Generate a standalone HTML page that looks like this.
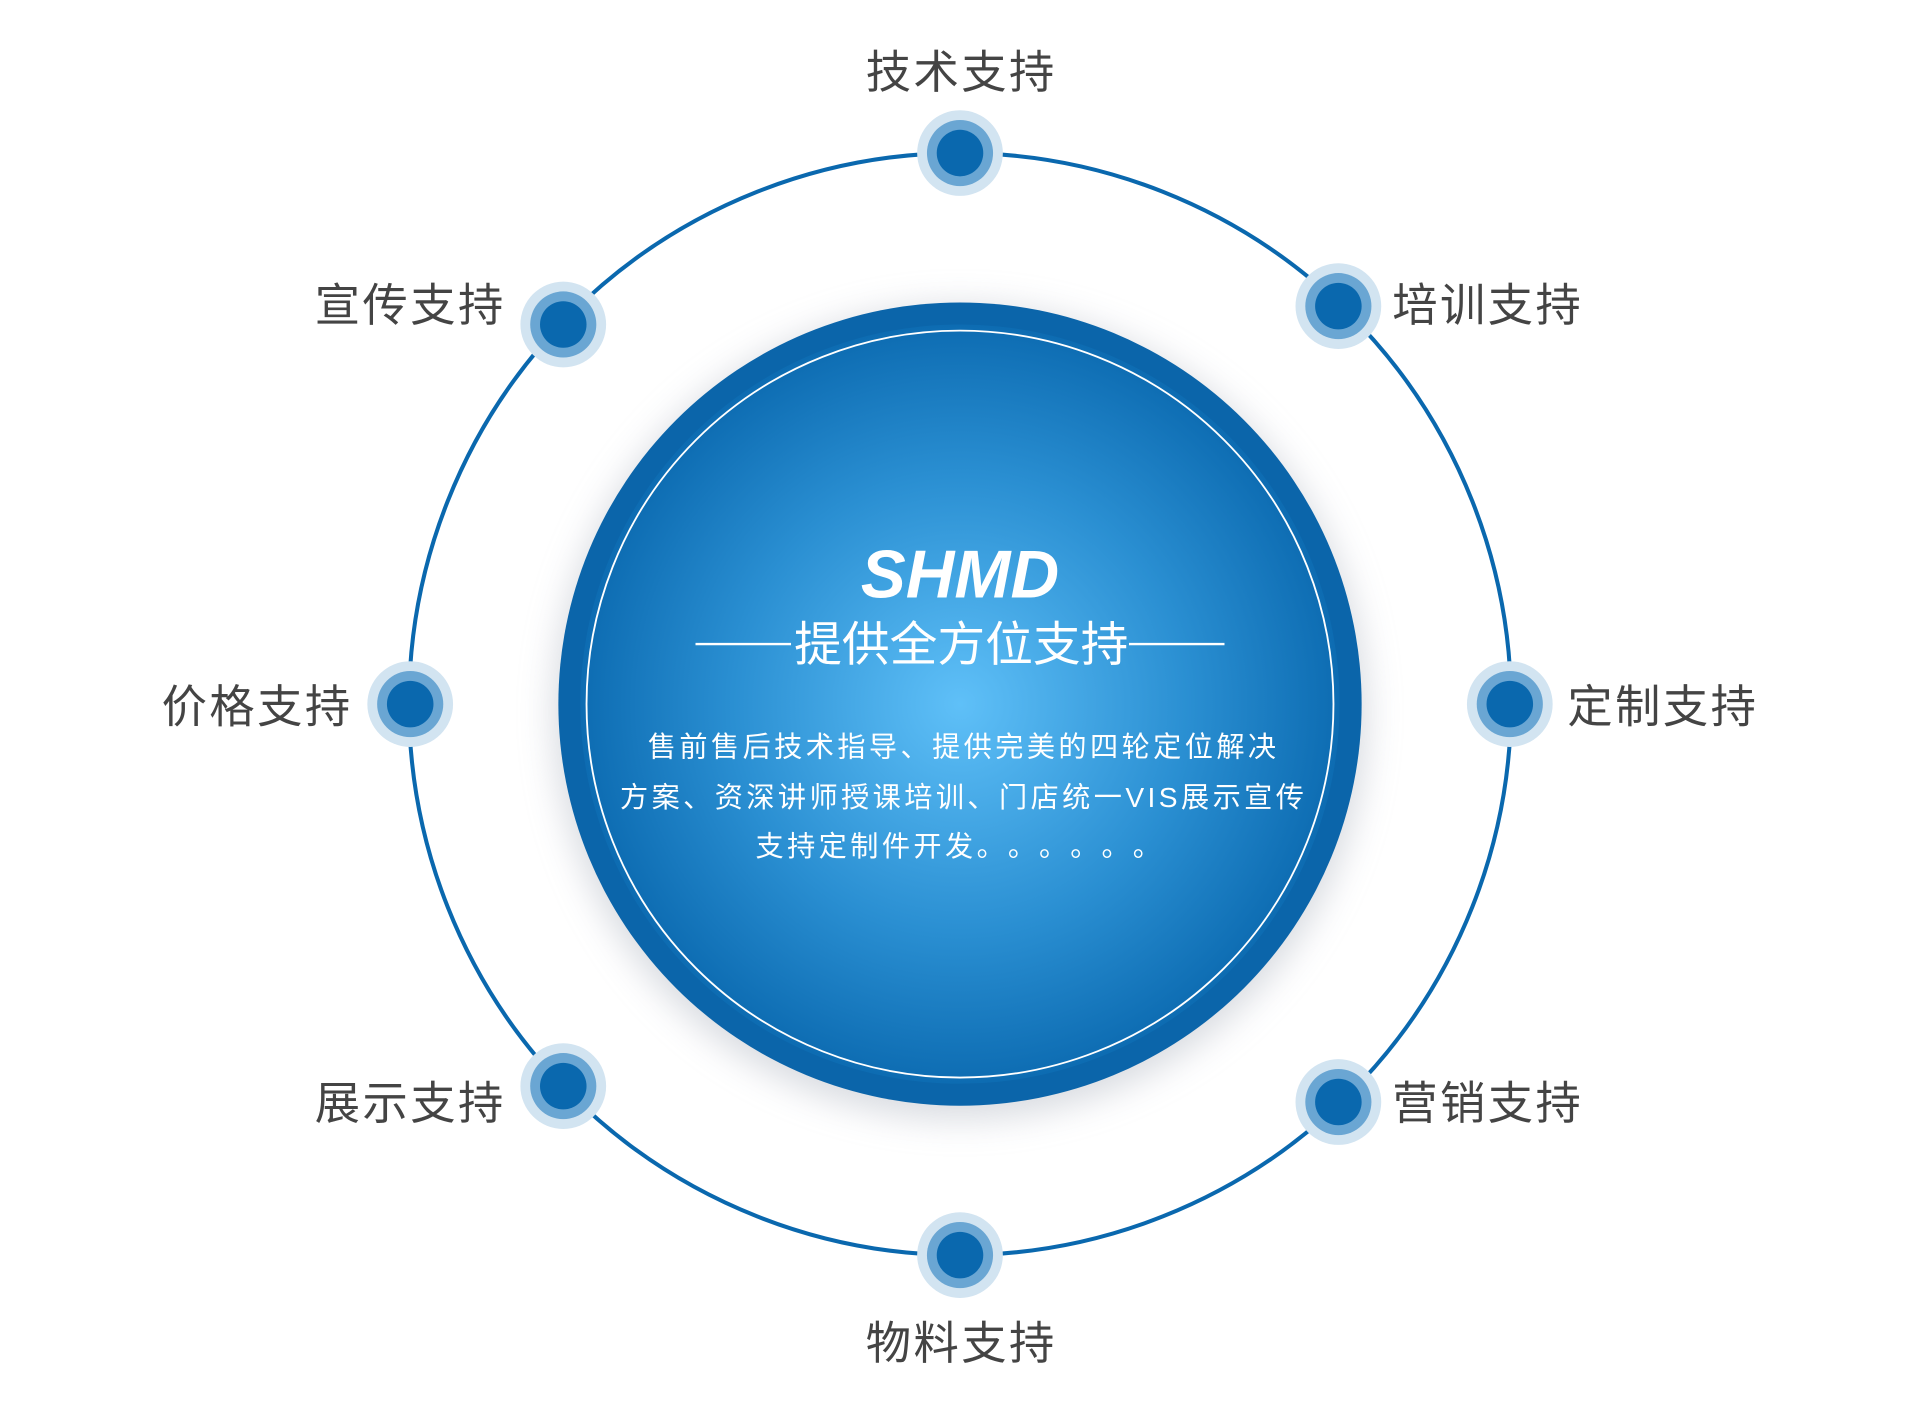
<!DOCTYPE html>
<html><head><meta charset="utf-8"><style>
html,body{margin:0;padding:0;background:#fff;}
svg{display:block;}
text{font-family:"Liberation Sans","Noto Sans CJK SC",sans-serif;}
</style></head><body>
<svg width="1920" height="1410" viewBox="0 0 1568 1151.5" preserveAspectRatio="none" xmlns="http://www.w3.org/2000/svg">
<defs>
<radialGradient id="g" cx="50%" cy="50%" r="50%">
<stop offset="0" stop-color="#5fc0f8"/>
<stop offset="0.6" stop-color="#2a8fd2"/>
<stop offset="1" stop-color="#0d6cb2"/>
</radialGradient>
<filter id="sh" x="-20%" y="-20%" width="140%" height="140%"><feGaussianBlur stdDeviation="14"/></filter>
</defs>
<circle cx="784" cy="575" r="450" fill="none" stroke="#0a68ae" stroke-width="3.3"/>
<circle cx="784" cy="582" r="332" fill="#c8ccd4" filter="url(#sh)" opacity="0.7"/>
<circle cx="784" cy="575" r="328" fill="#0b65aa"/>
<circle cx="784" cy="575" r="310" fill="url(#g)"/>
<circle cx="784" cy="575" r="305" fill="none" stroke="#fff" stroke-width="1.5"/>
<g>
<g transform="translate(784,125)"><circle r="35" fill="#d2e4f1"/><circle r="27" fill="#6aa6d3"/><circle r="19" fill="#0a68ae"/></g>
<g transform="translate(1093,250)"><circle r="35" fill="#d2e4f1"/><circle r="27" fill="#6aa6d3"/><circle r="19" fill="#0a68ae"/></g>
<g transform="translate(1233,575)"><circle r="35" fill="#d2e4f1"/><circle r="27" fill="#6aa6d3"/><circle r="19" fill="#0a68ae"/></g>
<g transform="translate(1093,900)"><circle r="35" fill="#d2e4f1"/><circle r="27" fill="#6aa6d3"/><circle r="19" fill="#0a68ae"/></g>
<g transform="translate(784,1025)"><circle r="35" fill="#d2e4f1"/><circle r="27" fill="#6aa6d3"/><circle r="19" fill="#0a68ae"/></g>
<g transform="translate(460,887)"><circle r="35" fill="#d2e4f1"/><circle r="27" fill="#6aa6d3"/><circle r="19" fill="#0a68ae"/></g>
<g transform="translate(335,575)"><circle r="35" fill="#d2e4f1"/><circle r="27" fill="#6aa6d3"/><circle r="19" fill="#0a68ae"/></g>
<g transform="translate(460,265)"><circle r="35" fill="#d2e4f1"/><circle r="27" fill="#6aa6d3"/><circle r="19" fill="#0a68ae"/></g>
</g>
<g font-size="37" fill="#444" letter-spacing="2">
<text x="785" y="72" text-anchor="middle">技术支持</text>
<text x="1137" y="262">培训支持</text>
<text x="1280" y="590">定制支持</text>
<text x="1137" y="914">营销支持</text>
<text x="785" y="1110" text-anchor="middle">物料支持</text>
<text x="413" y="914" text-anchor="end">展示支持</text>
<text x="288" y="590" text-anchor="end">价格支持</text>
<text x="413" y="262" text-anchor="end">宣传支持</text>
</g>
<text x="784" y="488" text-anchor="middle" font-size="55" font-weight="bold" font-style="italic" fill="#fff">SHMD</text>
<text x="785" y="540" text-anchor="middle" font-size="39" fill="#fff">提供全方位支持</text>
<line x1="568" y1="526" x2="646" y2="526" stroke="#fff" stroke-width="2"/>
<line x1="922" y1="526" x2="1000" y2="526" stroke="#fff" stroke-width="2"/>
<g font-size="23" fill="#fff" letter-spacing="2.8">
<text x="787" y="618" text-anchor="middle">售前售后技术指导、提供完美的四轮定位解决</text>
<text x="787" y="659" text-anchor="middle">方案、资深讲师授课培训、门店统一VIS展示宣传</text>
<text x="617" y="699">支持定制件开发<tspan letter-spacing="14">。。。。。。</tspan></text>
</g>
</svg>
</body></html>
